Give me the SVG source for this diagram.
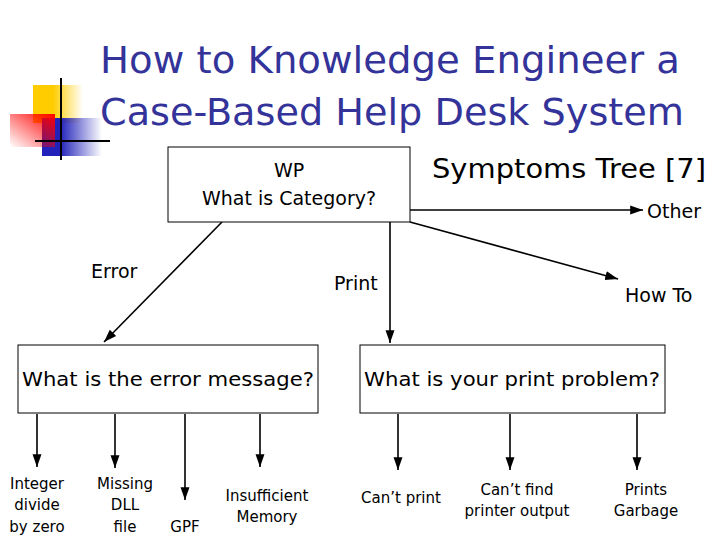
<svg xmlns="http://www.w3.org/2000/svg" width="720" height="540" viewBox="0 0 720 540">
<defs>
<linearGradient id="gy" x1="0" x2="1"><stop offset="0.4" stop-color="#ffcc00"/><stop offset="1" stop-color="#ffcc00" stop-opacity="0"/></linearGradient>
<linearGradient id="gr" x1="1" y1="0" x2="0" y2="1"><stop offset="0" stop-color="#ff0000"/><stop offset="1" stop-color="#ff0000" stop-opacity="0"/></linearGradient>
<linearGradient id="gb" x1="0" x2="1"><stop offset="0.3" stop-color="#2222bb"/><stop offset="1" stop-color="#2222bb" stop-opacity="0"/></linearGradient>
<marker id="ar" viewBox="0 0 10 10" refX="10" refY="5" markerWidth="8" markerHeight="8" orient="auto"><path d="M0,1.5 L10,5 L0,8.5 Z" fill="#000"/></marker>
<style>
text{font-family:"DejaVu Sans",Verdana,sans-serif;fill:#000}
.t{fill:#333399;font-size:38px}
.box{fill:#fff;stroke:#000;stroke-width:1}
.c line{stroke:#000;stroke-width:1.6;marker-end:url(#ar)}
.s{font-size:15px}
</style>
</defs>
<rect width="720" height="540" fill="#fff"/>
<g id="logo">
<rect x="33" y="85" width="50" height="38" fill="url(#gy)"/>
<rect x="42" y="118" width="60" height="38" fill="url(#gb)"/>
<rect x="10" y="114" width="45" height="33" fill="url(#gr)"/>
<line x1="61" y1="78" x2="61" y2="160" stroke="#000" stroke-width="2"/>
<line x1="35" y1="141" x2="110" y2="141" stroke="#000" stroke-width="2"/>
</g>
<text class="t" x="100" y="73" textLength="580" lengthAdjust="spacingAndGlyphs">How to Knowledge Engineer a</text>
<text class="t" x="100" y="125" textLength="584" lengthAdjust="spacingAndGlyphs">Case-Based Help Desk System</text>
<text x="432" y="178" font-size="27" textLength="274" lengthAdjust="spacingAndGlyphs">Symptoms Tree [7]</text>
<g class="c">
<line x1="410" y1="210" x2="643" y2="210"/>
<line x1="410" y1="222" x2="618" y2="279"/>
<line x1="222" y1="222" x2="104" y2="342"/>
<line x1="390" y1="222" x2="390" y2="343"/>
<line x1="37" y1="414" x2="37" y2="467"/>
<line x1="115" y1="414" x2="115" y2="468"/>
<line x1="185" y1="414" x2="185" y2="500"/>
<line x1="260" y1="414" x2="260" y2="467"/>
<line x1="398" y1="414" x2="398" y2="470"/>
<line x1="510" y1="414" x2="510" y2="470"/>
<line x1="637" y1="414" x2="637" y2="470"/>
</g>
<g id="root"><rect class="box" x="168" y="147" width="242" height="75"/>
<text x="289" y="177" font-size="19" text-anchor="middle">WP</text>
<text x="289" y="205" font-size="19" text-anchor="middle">What is Category?</text></g>
<g id="other"><text x="647" y="218" font-size="19">Other</text></g>
<g id="howto"><text x="625" y="302" font-size="19">How To</text></g>
<g id="error-l"><text x="91" y="278" font-size="19">Error</text></g>
<g id="print-l"><text x="334" y="290" font-size="19">Print</text></g>
<g id="errmsg"><rect class="box" x="18" y="345" width="300" height="68"/>
<text x="168" y="386" font-size="19" text-anchor="middle" textLength="292" lengthAdjust="spacingAndGlyphs">What is the error message?</text></g>
<g id="printprob"><rect class="box" x="360" y="345" width="305" height="68"/>
<text x="512" y="386" font-size="19" text-anchor="middle" textLength="296" lengthAdjust="spacingAndGlyphs">What is your print problem?</text></g>
<g id="n1"><text x="37" y="489" text-anchor="middle" class="s">Integer</text><text x="37" y="510" text-anchor="middle" class="s">divide</text><text x="37" y="532" text-anchor="middle" class="s">by zero</text></g>
<g id="n2"><text x="125" y="489" text-anchor="middle" class="s">Missing</text><text x="125" y="510" text-anchor="middle" class="s">DLL</text><text x="125" y="532" text-anchor="middle" class="s">file</text></g>
<g id="n3"><text x="185" y="532" text-anchor="middle" class="s">GPF</text></g>
<g id="n4"><text x="267" y="501" text-anchor="middle" class="s">Insufficient</text><text x="267" y="522" text-anchor="middle" class="s">Memory</text></g>
<g id="n5"><text x="401" y="503" text-anchor="middle" class="s">Can’t print</text></g>
<g id="n6"><text x="517" y="495" text-anchor="middle" class="s">Can’t find</text><text x="517" y="516" text-anchor="middle" class="s">printer output</text></g>
<g id="n7"><text x="646" y="495" text-anchor="middle" class="s">Prints</text><text x="646" y="516" text-anchor="middle" class="s">Garbage</text></g>
</svg>
